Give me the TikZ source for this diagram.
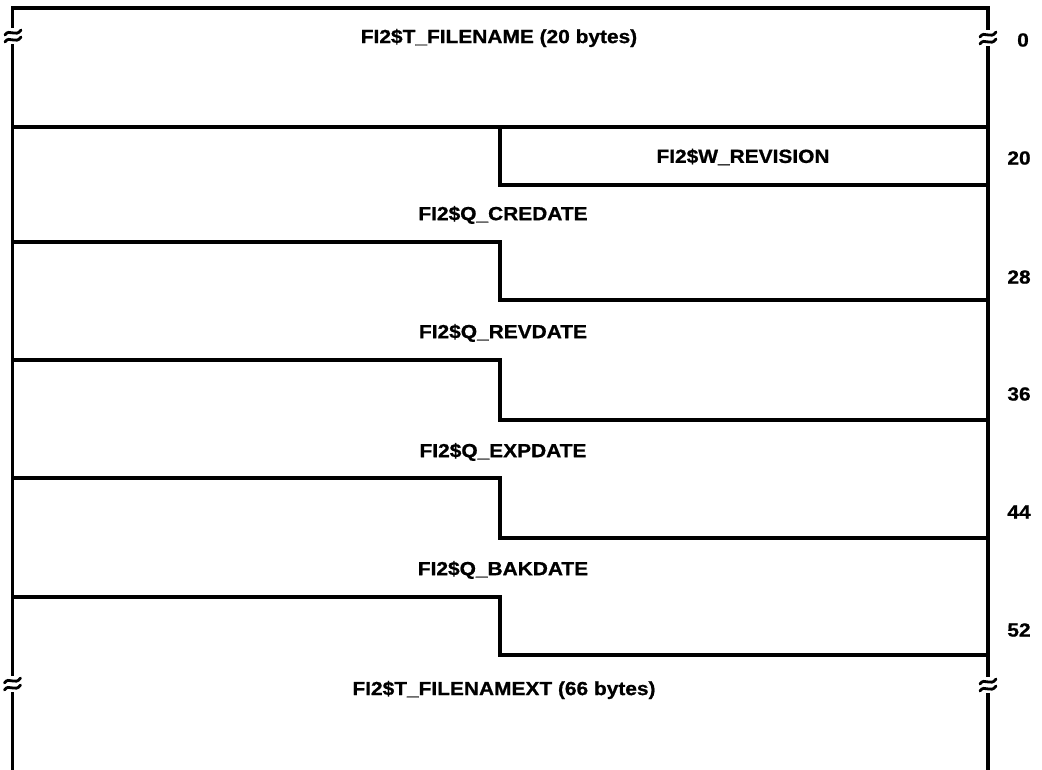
\documentclass[tikz,border=0pt]{standalone}
\usepackage{fontspec}
\setmainfont{Liberation Sans}[BoldFeatures={FakeBold=0.8}]
\newcommand{\fieldtxt}[1]{\scalebox{1.1}[1]{#1}}
\begin{document}
\begin{tikzpicture}[x=1pt,y=-1pt,
  rule/.style={line width=3.3pt,line cap=rect},
  lbl/.style={font=\fontsize{19}{21}\selectfont\bfseries,inner sep=0pt,anchor=center},
  brkmark/.pic={
    \fill[white] (-4,-8) rectangle (4,8);
    \draw[line width=2.8pt,line cap=round] (-8,-1) .. controls (-4,-8) and (3,2) .. (8,-6);
    \draw[line width=2.8pt,line cap=round] (-8,6) .. controls (-4,-1) and (3,9) .. (8,1);
  }]
\useasboundingbox (0,0) rectangle (1042,770);
\coordinate (tl) at (12.5,8);
\coordinate (tr) at (988,8);
\coordinate (bl) at (12.5,770);
\coordinate (br) at (988,770);
% outer frame
\draw[rule] (bl) -- (tl) -- (tr) -- (br);
% row separators
\draw[rule] (12.5,127) -- (988,127);
\draw[rule] (500,127) -- (500,185) -- (988,185);
\foreach \ya/\yb in {242/300, 360/420, 478/538, 597/655}{
  \draw[rule] (12.5,\ya) -- (500,\ya) -- (500,\yb) -- (988,\yb);
}
% break marks
\pic at (13,36) {brkmark};
\pic at (988,38) {brkmark};
\pic at (12.5,684) {brkmark};
\pic at (988,685) {brkmark};
% field labels
\node[lbl] (f1) at (499,38) {\fieldtxt{FI2\$T\_FILENAME (20 bytes)}};
\node[lbl] (f2) at (743,157) {\fieldtxt{FI2\$W\_REVISION}};
\node[lbl] (f3) at (503,215) {\fieldtxt{FI2\$Q\_CREDATE}};
\node[lbl] (f4) at (503,333) {\fieldtxt{FI2\$Q\_REVDATE}};
\node[lbl] (f5) at (503,452) {\fieldtxt{FI2\$Q\_EXPDATE}};
\node[lbl] (f6) at (503,570) {\fieldtxt{FI2\$Q\_BAKDATE}};
\node[lbl] (f7) at (504,690) {\fieldtxt{FI2\$T\_FILENAMEXT (66 bytes)}};
% offsets
\node[lbl] (o0) at (1023,40) {\fieldtxt{0}};
\node[lbl] (o20) at (1019,158) {\fieldtxt{20}};
\node[lbl] (o28) at (1019,277) {\fieldtxt{28}};
\node[lbl] (o36) at (1019,394) {\fieldtxt{36}};
\node[lbl] (o44) at (1019,512) {\fieldtxt{44}};
\node[lbl] (o52) at (1019,630) {\fieldtxt{52}};
\end{tikzpicture}
\end{document}
